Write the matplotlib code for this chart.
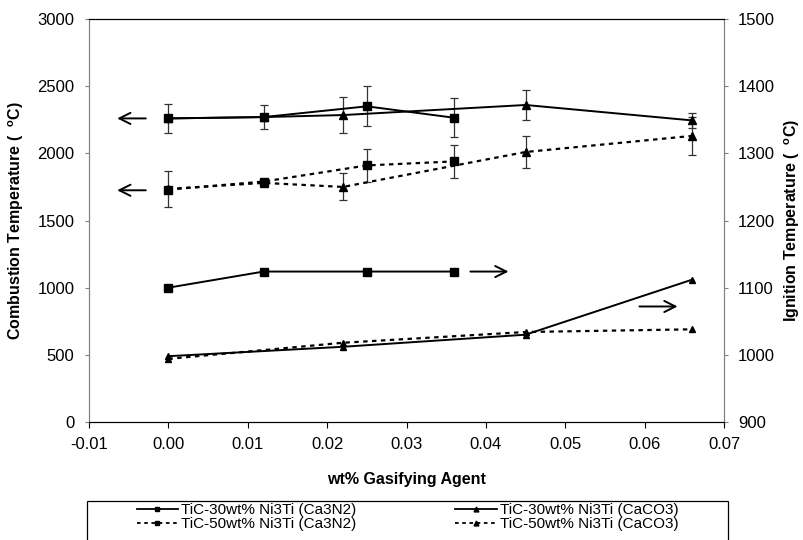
import matplotlib
matplotlib.use("Agg")
import matplotlib.pyplot as plt
from matplotlib.lines import Line2D
from matplotlib.patches import Rectangle

plt.rcParams['font.family'] = ['Liberation Sans', 'DejaVu Sans']

# wt% gasifying agent
x_ca3n2 = [0.0, 0.012, 0.025, 0.036]
x_caco3 = [0.0, 0.012, 0.022, 0.045, 0.066]
x_caco3_ign = [0.0, 0.022, 0.045, 0.066]

# combustion temperature (left axis)
comb_30_ca3n2 = [2260, 2270, 2350, 2265]
comb_30_ca3n2_err = [110, 90, 150, 145]
comb_30_caco3 = [2260, 2270, 2285, 2360, 2245]
comb_30_caco3_err = [0, 0, 135, 115, 55]
comb_50_ca3n2 = [1730, 1790, 1910, 1940]
comb_50_ca3n2_err = [0, 0, 125, 120]
comb_50_caco3 = [1735, 1780, 1750, 2010, 2130]
comb_50_caco3_err = [135, 0, 100, 120, 140]

# ignition temperature (right axis)
ign_30_ca3n2 = [1100, 1124, 1124, 1124]
ign_30_caco3 = [998, 1012, 1030, 1112]
ign_50_caco3 = [994, 1018, 1034, 1038]

labels = ["TiC-30wt% Ni3Ti (Ca3N2)", "TiC-30wt% Ni3Ti (CaCO3)",
          "TiC-50wt% Ni3Ti (Ca3N2)", "TiC-50wt% Ni3Ti (CaCO3)"]

dot = (0, (2, 2))
gray = "#808080"

fig = plt.figure(figsize=(8.04, 5.40), dpi=100)
ax = fig.add_axes([0.1107, 0.2185, 0.7898, 0.7463])
ax2 = ax.twinx()

eb = dict(ecolor="#333333", elinewidth=0.9, capsize=3, capthick=0.9)
ax.errorbar(x_ca3n2, comb_30_ca3n2, yerr=comb_30_ca3n2_err, color="black", lw=1.4,
            marker="s", ms=5.5, **eb)
ax.errorbar(x_caco3, comb_30_caco3, yerr=comb_30_caco3_err, color="black", lw=1.4,
            marker="^", ms=5.5, **eb)
ax.errorbar(x_ca3n2, comb_50_ca3n2, yerr=comb_50_ca3n2_err, color="black", lw=1.6,
            ls=dot, marker="s", ms=5.5, **eb)
ax.errorbar(x_caco3, comb_50_caco3, yerr=comb_50_caco3_err, color="black", lw=1.6,
            ls=dot, marker="^", ms=5.5, **eb)

ax2.plot(x_ca3n2, ign_30_ca3n2, color="black", lw=1.4, marker="s", ms=5.5)
ax2.plot(x_caco3_ign, ign_30_caco3, color="black", lw=1.4, marker="^", ms=4.5)
ax2.plot(x_caco3_ign, ign_50_caco3, color="black", lw=1.6, ls=dot, marker="^", ms=4.5)

# arrows pointing at the axis each group belongs to
arr = dict(arrowstyle="->", color="black", lw=1.4, mutation_scale=20)
ax.annotate("", xy=(-0.0068, 2260), xytext=(-0.0025, 2260), arrowprops=arr)
ax.annotate("", xy=(-0.0068, 1725), xytext=(-0.0025, 1725), arrowprops=arr)
ax2.annotate("", xy=(0.0432, 1124), xytext=(0.0377, 1124), arrowprops=arr)
ax2.annotate("", xy=(0.0645, 1072), xytext=(0.059, 1072), arrowprops=arr)

ax.set_xlim(-0.01, 0.07)
ax.set_ylim(0, 3000)
ax2.set_ylim(900, 1500)
ax.set_xticks([-0.01, 0.0, 0.01, 0.02, 0.03, 0.04, 0.05, 0.06, 0.07])
ax.set_xticklabels(["-0.01", "0.00", "0.01", "0.02", "0.03", "0.04", "0.05", "0.06", "0.07"])
ax.set_yticks(range(0, 3001, 500))
ax2.set_yticks(range(900, 1501, 100))

for a in (ax, ax2):
    a.spines["left"].set_color(gray)
    a.spines["right"].set_color(gray)
    a.spines["top"].set_color("black")
    a.spines["bottom"].set_color("black")
ax.tick_params(axis="y", direction="out", length=3, color=gray, labelsize=12, pad=7.5)
ax2.tick_params(axis="y", direction="out", length=3, color=gray, labelsize=12, pad=7)
ax.tick_params(axis="x", direction="out", length=4, color="black", labelsize=12, pad=7)

ax.set_xlabel("wt% Gasifying Agent", fontsize=11.5, fontweight="bold", labelpad=14)
ax.set_ylabel("Combustion Temperature (  $^{\\mathregular{o}}$C)", fontsize=11.5,
              fontweight="bold", labelpad=8)
ax2.set_ylabel("Ignition Temperature (  $^{\\mathregular{o}}$C)", fontsize=11.5,
               fontweight="bold", labelpad=5)

# legend: entries filled column-wise
handles = [
    Line2D([], [], color="black", lw=1.3, marker="s", ms=3.5),
    Line2D([], [], color="black", lw=1.3, ls=(0, (2, 2)), marker="s", ms=3.5),
    Line2D([], [], color="black", lw=1.3, marker="^", ms=3.5),
    Line2D([], [], color="black", lw=1.3, ls=(0, (2, 2)), marker="^", ms=3.5),
]
leg_labels = [labels[0], labels[2], labels[1], labels[3]]
fig.legend(handles, leg_labels, ncol=2, loc="upper center",
           bbox_to_anchor=(407.5 / 804, 1 - 503 / 540),
           fontsize=11, frameon=False, handlelength=2.7, handletextpad=0.2,
           labelspacing=0.0, borderpad=0, borderaxespad=0, columnspacing=6.5)
fig.add_artist(Rectangle((87 / 804, -0.02), 641 / 804, (540 - 501) / 540 + 0.02,
                         transform=fig.transFigure, fill=False, edgecolor="black",
                         lw=0.9))

fig.savefig("out.png", dpi=100)
